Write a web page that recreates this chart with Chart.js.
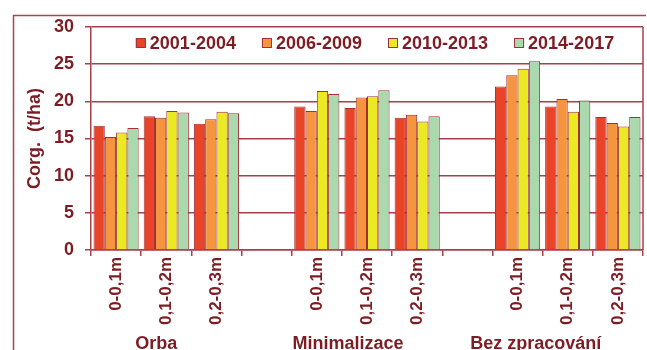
<!DOCTYPE html>
<html>
<head>
<meta charset="utf-8">
<script src="https://cdn.jsdelivr.net/npm/chart.js@4.4.1/dist/chart.umd.min.js"></script>
<style>
html,body{margin:0;padding:0;background:#ffffff;}
#wrap{width:647px;height:350px;position:relative;}
</style>
</head>
<body>
<div id="wrap"><canvas id="c" width="647" height="350"></canvas></div>
<script>
const categories = ['0-0,1m','0,1-0,2m','0,2-0,3m','', '0-0,1m','0,1-0,2m','0,2-0,3m','', '0-0,1m','0,1-0,2m','0,2-0,3m'];
const groups = ['Orba','Minimalizace','Bez zpracování'];
const seriesLabels = ['2001-2004','2006-2009','2010-2013','2014-2017'];
const s2001 = [16.7, 18.0, 17.0, null, 19.3, 19.1, 17.8, null, 22.0, 19.3, 17.9];
const s2006 = [15.2, 17.8, 17.6, null, 18.7, 20.5, 18.2, null, 23.5, 20.3, 17.1];
const s2010 = [15.8, 18.7, 18.6, null, 21.4, 20.7, 17.3, null, 24.4, 18.6, 16.6];
const s2014 = [16.4, 18.5, 18.4, null, 21.0, 21.5, 18.0, null, 25.4, 20.1, 17.9];
const yTicks = [0, 5, 10, 15, 20, 25, 30];
const yTitle = 'Corg.  (t/ha)';

const colors = ['#ea4428', '#f6953f', '#ebe824', '#a9d9ac'];
const textColor = '#7e1c24';
const lineColor = '#a8404c';
const FONT = '"Liberation Sans", Arial, sans-serif';

const seriesData = [s2001, s2006, s2010, s2014];

const framePlugin = {
  id: 'frame',
  beforeDraw(chart) {
    const ctx = chart.ctx;
    ctx.save();
    ctx.fillStyle = '#ffffff';
    ctx.fillRect(0, 0, chart.width, chart.height);
    ctx.strokeStyle = '#b2404e';
    ctx.lineWidth = 1.5;
    ctx.beginPath();
    ctx.moveTo(13.5, chart.height + 2);
    ctx.lineTo(13.5, 15.5);
    ctx.lineTo(646, 15.5);
    ctx.stroke();
    ctx.restore();
  },
  afterDraw(chart) {
    const ctx = chart.ctx;
    const a = chart.chartArea;
    ctx.save();
    // right border of plot area
    ctx.strokeStyle = lineColor;
    ctx.lineWidth = 1.5;
    ctx.beginPath();
    ctx.moveTo(a.right, a.top);
    ctx.lineTo(a.right, a.bottom);
    ctx.stroke();

    // custom legend
    ctx.font = 'bold 18px ' + FONT;
    ctx.textBaseline = 'middle';
    ctx.textAlign = 'left';
    const box = 10, gapBox = 4, gapItem = 26;
    let widths = seriesLabels.map(l => ctx.measureText(l).width);
    let total = widths.reduce((s, w) => s + box + gapBox + w, 0) + gapItem * (seriesLabels.length - 1);
    let x = (a.left + a.right) / 2 - total / 2 + 8;
    const y = a.top + 16;
    seriesLabels.forEach((l, i) => {
      ctx.fillStyle = colors[i];
      ctx.fillRect(x, y - box / 2, box, box);
      ctx.strokeStyle = '#a0303a';
      ctx.lineWidth = 1;
      ctx.strokeRect(x + 0.5, y - box / 2 + 0.5, box - 1, box - 1);
      ctx.fillStyle = textColor;
      ctx.fillText(l, x + box + gapBox, y + 1);
      x += box + gapBox + widths[i] + gapItem;
    });

    // group labels
    const xs = chart.scales.x;
    const offs = [-10, -19, -32];
    ctx.font = 'bold 18px ' + FONT;
    ctx.textAlign = 'center';
    ctx.textBaseline = 'middle';
    ctx.fillStyle = textColor;
    groups.forEach((g, i) => {
      const px = xs.getPixelForValue(i * 4 + 1) + offs[i];
      ctx.fillText(g, px, 344);
    });
    ctx.restore();
  }
};

new Chart(document.getElementById('c'), {
  type: 'bar',
  data: {
    labels: categories,
    datasets: seriesData.map((d, i) => ({
      label: seriesLabels[i],
      data: d,
      backgroundColor: colors[i],
      borderColor: '#a0303a',
      borderWidth: 1,
      categoryPercentage: 0.9,
      barPercentage: 1.0
    }))
  },
  options: {
    responsive: false,
    animation: false,
    layout: { padding: { left: 0, right: 4, top: 27, bottom: 0 } },
    plugins: {
      legend: { display: false },
      tooltip: { enabled: false }
    },
    scales: {
      x: {
        grid: { display: true, drawOnChartArea: false, drawTicks: true, tickLength: 6, color: lineColor, lineWidth: 1.5, offset: true },
        border: { display: true, color: lineColor, width: 1.5 },
        ticks: {
          color: textColor,
          font: { family: FONT, size: 17, weight: 'bold' },
          minRotation: 90, maxRotation: 90,
          autoSkip: false,
          padding: 1
        },
        afterFit(scale) { scale.height = 100; }
      },
      y: {
        min: 0, max: 30,
        afterBuildTicks(scale) { scale.ticks = yTicks.map(v => ({ value: v })); },
        grid: { color: lineColor, lineWidth: 1.5, drawTicks: true, tickLength: 6 },
        border: { display: true, color: lineColor, width: 1.5 },
        ticks: {
          color: textColor,
          font: { family: FONT, size: 18, weight: 'bold' },
          padding: 11
        },
        title: {
          display: true,
          text: yTitle,
          color: textColor,
          font: { family: FONT, size: 18, weight: 'bold' },
          padding: { top: 24, bottom: 0 }
        },
        afterFit(scale) { scale.width = 91; }
      }
    }
  },
  plugins: [framePlugin]
});
</script>
</body>
</html>
